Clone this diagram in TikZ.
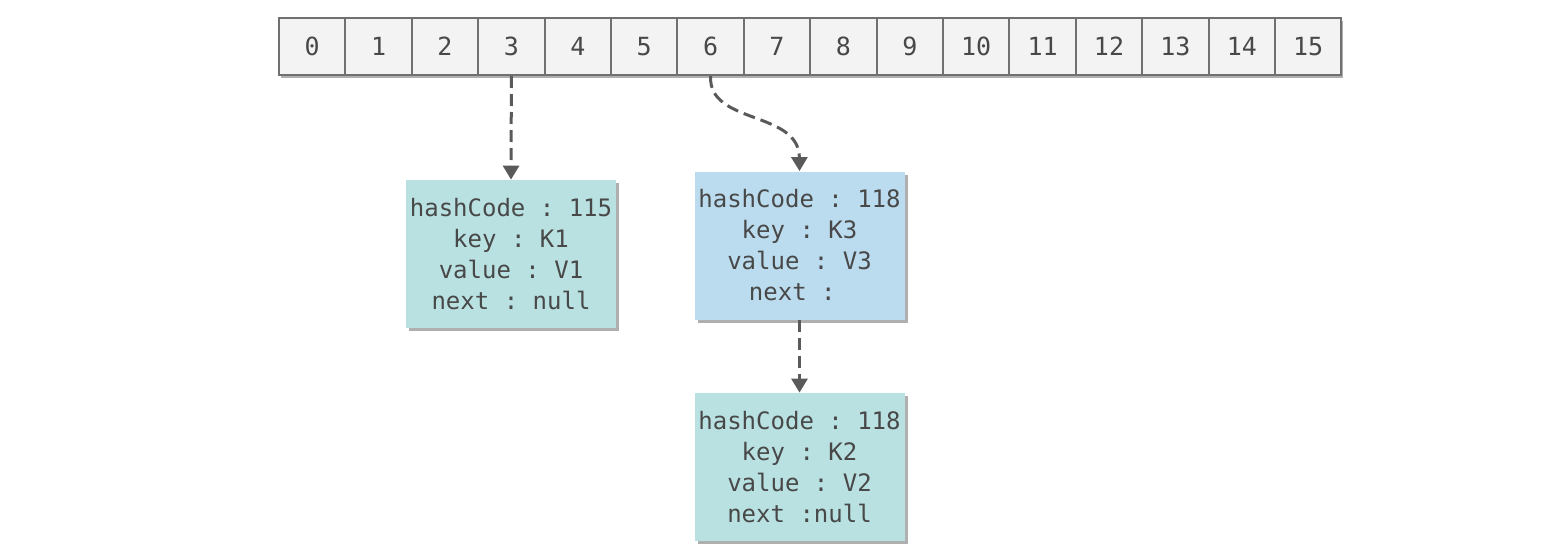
\documentclass[tikz,border=0pt]{standalone}
\usepackage{fontspec}
\setmonofont{DejaVu Sans Mono}
\usetikzlibrary{positioning,arrows.meta,shadows}
\definecolor{cellFill}{RGB}{243,243,243}
\definecolor{lineGray}{RGB}{112,112,112}
\definecolor{textGray}{RGB}{72,72,72}
\definecolor{arrowGray}{RGB}{90,90,90}
\definecolor{shadowGray}{RGB}{175,175,175}
\definecolor{entryTeal}{RGB}{185,225,226}
\definecolor{entryBlue}{RGB}{187,220,238}
\tikzstyle{pixels} = [x = 0.5pt, y = -0.5pt]
\tikzstyle{bucketStyle} = [draw=lineGray, fill=cellFill, line width=1pt, minimum width=33.2pt, minimum height=28.5pt, inner sep=0pt, text=textGray, font=\ttfamily\fontsize{12.5}{14}\selectfont, drop shadow={shadow xshift=1pt, shadow yshift=-1.5pt, fill=shadowGray, opacity=1}]
\tikzstyle{entryStyle} = [minimum width=105pt, minimum height=74pt, inner sep=0pt, align=center, text=textGray, font=\ttfamily\fontsize{12}{15.5}\selectfont, drop shadow={shadow xshift=1.5pt, shadow yshift=-1.5pt, fill=shadowGray, opacity=1}]
\tikzstyle{pointer} = [draw=arrowGray, line width=1.5pt, dash pattern=on 6pt off 3pt, -{Triangle[width=8pt,length=7pt]}]

\begin{document}
\begin{tikzpicture}[pixels]
  \useasboundingbox (0,0) rectangle (1556,556);
  % table of buckets
  \foreach \i in {0,...,15} {
    \pgfmathsetmacro{\var}{279 + 66.4 * (\i + 0.5)}
    \node [bucketStyle] (bucket\i) at (\var, 46.5) {\i};
  }
  % entries
  \node [entryStyle, fill=entryTeal] (entryA) at (511, 254) {hashCode : 115\\key : K1\\value : V1\\next : null};
  \node [entryStyle, fill=entryBlue] (entryC) at (799.5, 245.5) {hashCode : 118\\key : K3\\value : V3\\next :\hphantom{0}};
  \node [entryStyle, fill=entryTeal] (entryB) at (799.5, 467) {hashCode : 118\\key : K2\\value : V2\\next :null};
  % links
  \draw [pointer] (bucket3.south) -- (entryA.north);
  \draw [pointer] (bucket6.south) .. controls (708, 125) and (799, 110) .. (entryC.north);
  \draw [pointer] (entryC.south) -- (entryB.north);
\end{tikzpicture}
\end{document}
